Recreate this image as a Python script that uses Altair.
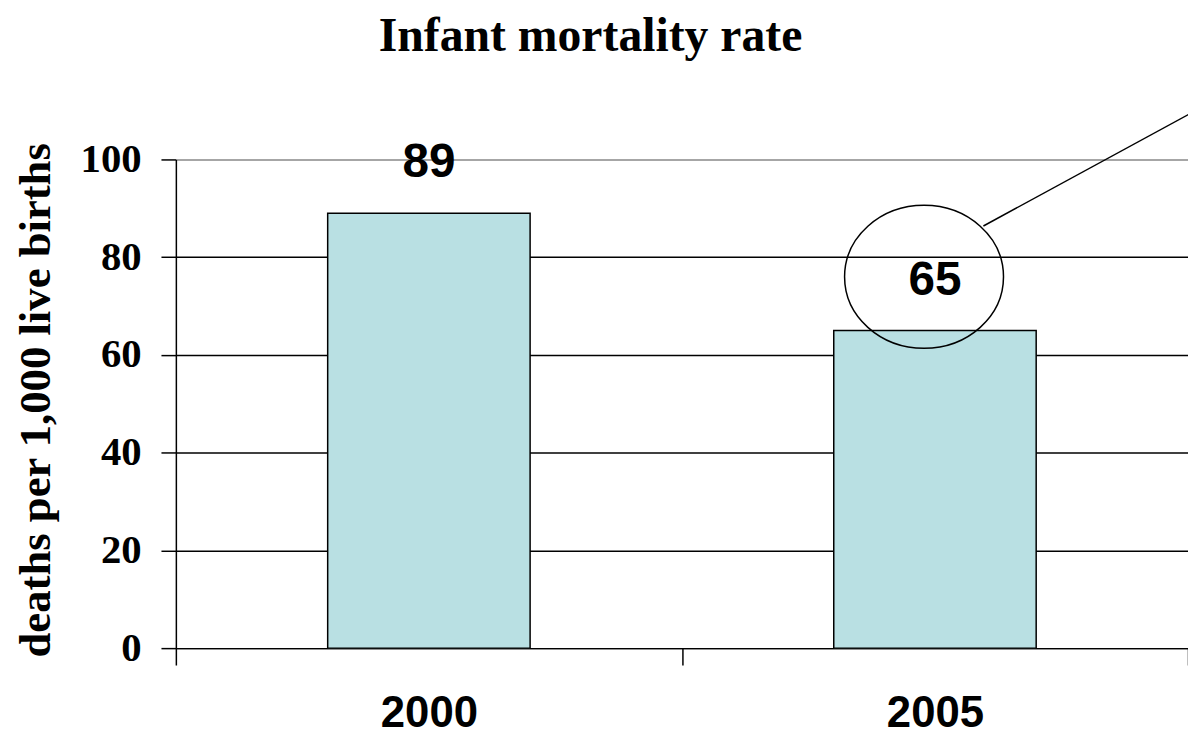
import altair as alt
import pandas as pd

# ---- data ----
years = ["2000", "2005"]
rates = [89, 65]
y_ticks = [0, 20, 40, 60, 80, 100]

title_text = "Infant mortality rate"
y_title = "deaths per 1,000 live births"

# ---- styles ----
BAR_FILL = "#B9E0E3"
SERIF = "Liberation Serif"
SANS = "Liberation Sans"
SANS_NARROW = "Liberation Sans Narrow, Liberation Sans"

df = pd.DataFrame({"year": years, "rate": rates})
highlight = df[df["year"] == "2005"]

xscale = alt.Scale(paddingInner=0, paddingOuter=0)

xenc = alt.X(
    "year:N",
    sort=years,
    scale=xscale,
    axis=alt.Axis(
        title=None,
        labelAngle=0,
        tickBand="extent",
        tickSize=17,
        tickColor="black",
        tickWidth=1.5,
        domainColor="black",
        domainWidth=1.5,
        labelFont=SANS_NARROW,
        labelFontWeight="bold",
        labelFontSize=44,
        labelColor="black",
        labelPadding=27,
        grid=False,
    ),
)

yenc = alt.Y(
    "rate:Q",
    scale=alt.Scale(domain=[0, 100], nice=False),
    axis=alt.Axis(
        values=y_ticks,
        title=y_title,
        titleFont=SERIF,
        titleFontWeight="bold",
        titleFontSize=45,
        titleColor="black",
        titleX=-141,
        titleY=242,
        titleBaseline="middle",
        titleAlign="center",
        labelFont=SERIF,
        labelFontWeight="bold",
        labelFontSize=41,
        labelColor="black",
        labelPadding=20,
        tickSize=15,
        tickColor="black",
        tickWidth=1.5,
        domainColor="black",
        domainWidth=1.5,
        gridColor=alt.condition("datum.value == 100", alt.value("#888888"), alt.value("black")),
        gridWidth=1.5,
    ),
)

bars = alt.Chart(df).mark_bar(
    fill=BAR_FILL, stroke="black", strokeWidth=1.5,
    width=alt.RelativeBandSize(band=0.4)
).encode(x=xenc, y=yenc)

labels = alt.Chart(df).mark_text(
    font=SANS, fontWeight="bold", fontSize=48, color="black",
    baseline="middle", dy=-50
).encode(x=alt.X("year:N", sort=years), y="rate:Q", text="rate:Q")

# ellipse highlighting the 2005 value
ELLIPSE_PATH = "M -1 0 A 1 0.9 0 1 0 1 0 A 1 0.9 0 1 0 -1 0 Z"
ellipse = alt.Chart(highlight).mark_point(
    shape=ELLIPSE_PATH, size=25600, filled=False, stroke="black",
    strokeWidth=1.5, opacity=1, xOffset=-11, yOffset=-54
).encode(x=alt.X("year:N", sort=years), y="rate:Q")

# leader line from the ellipse towards the top-right corner
leader = alt.Chart(highlight).mark_rule(color="black", strokeWidth=1.5).encode(
    x=alt.value(813), y=alt.value(67), x2=alt.value(1030), y2=alt.value(-51)
)

chart = (
    alt.layer(bars, labels, ellipse, leader)
    .properties(
        width=1019,
        height=492,
        autosize=alt.AutoSizeParams(type="none"),
        padding={"left": 169, "top": 150, "right": 0, "bottom": 86},
        title=alt.TitleParams(
            text=title_text,
            font=SERIF,
            fontWeight="bold",
            fontSize=48,
            color="black",
            anchor="middle",
            frame="group",
            dx=-92,
            offset=47,
        ),
    )
    .configure_view(stroke=None)
)

chart.save("out.html", embed_options={"renderer": "svg", "actions": False})
